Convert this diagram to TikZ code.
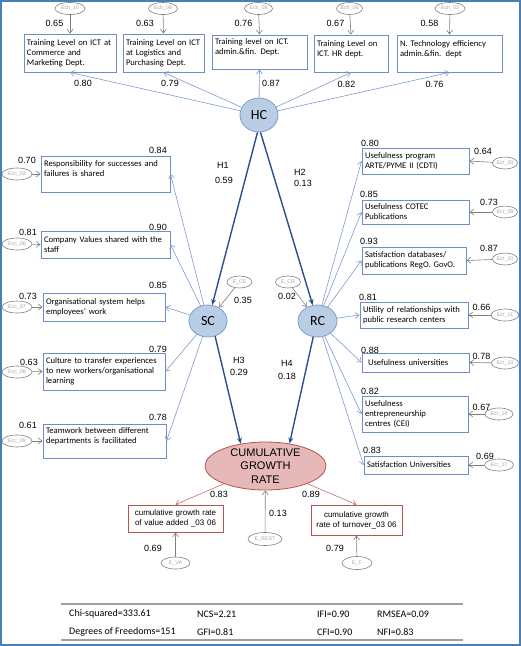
\documentclass[tikz,border=0pt]{standalone}
\usepackage{fontspec}
\setmainfont{Carlito}
\newfontfamily\arialfont{Liberation Sans}
\usetikzlibrary{arrows.meta,shapes.geometric}
\definecolor{framecol}{HTML}{4A7EBB}
\definecolor{boxcol}{HTML}{6E8FC6}
\definecolor{latfill}{HTML}{B9CDE5}
\definecolor{latdraw}{HTML}{7C9DCC}
\definecolor{strcol}{HTML}{28508C}
\definecolor{loadcol}{HTML}{7D9BD0}
\definecolor{errcol}{HTML}{7F7F7F}
\definecolor{errtxt}{HTML}{A6A6A6}
\definecolor{cgrfill}{HTML}{E6B9B8}
\definecolor{cgrdraw}{HTML}{B45553}
\definecolor{redline}{HTML}{B87373}
\definecolor{rulecol}{HTML}{A0A0A0}
\tikzset{>=latex}

\begin{document}
\begin{tikzpicture}[x=1pt,y=-1pt,
  ind/.style 2 args={draw=boxcol, line width=0.9pt, fill=white, align=left,
    inner xsep=3pt, inner ysep=1pt, text width=#1, minimum height=#2,
    font=\fontsize{8.6}{10}\selectfont},
  outc/.style 2 args={ind={#1}{#2}, draw=cgrdraw, align=center,
    font=\arialfont\fontsize{8}{10}\selectfont},
  lat/.style={ellipse, draw=latdraw, fill=latfill, line width=0.8pt, inner sep=0pt,
    minimum width=38pt, minimum height=32pt, font=\fontsize{14}{14}\selectfont},
  err/.style={ellipse, draw=errcol, line width=0.6pt, fill=white, inner sep=0pt,
    minimum width=#1, minimum height=12pt, text=errtxt,
    font=\arialfont\fontsize{5.3}{6}\selectfont},
  err/.default=29pt,
  num/.style={font=\arialfont\fontsize{9}{10}\selectfont, inner sep=0pt},
  tab/.style={anchor=west, inner sep=0pt, font=\fontsize{10}{12}\selectfont},
  load/.style={->, draw=loadcol, line width=0.6pt, >={Straight Barb[length=4pt,width=6pt]}},
  structa/.style={->, draw=strcol, line width=1.4pt, >={Stealth[length=6pt,width=5pt]}},
  erra/.style={->, draw=errcol, line width=0.6pt, >={Straight Barb[length=4pt,width=6pt]}},
  outa/.style={->, draw=redline, line width=0.6pt, >={Straight Barb[length=4pt,width=6pt]}}
]
  \useasboundingbox (0,0) rectangle (521,646);
  \draw[framecol, line width=1.5pt] (1,1) rectangle (520,645);

  % Latent variables
  \node[lat, minimum height=34pt] (HC) at (259,115) {HC};
  \node[lat]                      (SC) at (208,321) {SC};
  \node[lat, minimum width=39pt]  (RC) at (317.5,321) {RC};
  \node[ellipse, draw=cgrdraw, fill=cgrfill, line width=0.8pt, minimum width=121pt,
    minimum height=48pt, inner xsep=0pt, inner ysep=-4pt, align=center,
    font=\arialfont\fontsize{11}{13.5}\selectfont] (CGR) at (265.5,466) {CUMULATIVE\\GROWTH\\RATE};

  % HC indicators
  \node[ind={86pt}{38pt}] (T1) at (70,53)    {Training Level on ICT at\\Commerce and\\Marketing Dept.};
  \node[ind={75pt}{38pt}] (T2) at (163.5,53) {Training Level on ICT\\at Logistics and\\Purchasing Dept.};
  \node[ind={89pt}{34pt}] (T3) at (259.5,52) {Training level on ICT.\\admin.\&fin. Dept.\\\mbox{}};
  \node[ind={68pt}{37pt}] (T4) at (351,53.5) {Training Level on\\ICT. HR dept.\\\mbox{}};
  \node[ind={99pt}{37pt}] (T5) at (449.5,53.5) {N. Technology efficiency\\admin.\&fin. dept\\\mbox{}};

  % SC indicators
  \node[ind={123pt}{36pt}] (L1) at (105.5,174)   {Responsibility for successes and\\failures is shared\\\mbox{}};
  \node[ind={123pt}{27pt}] (L2) at (105.5,244.5) {Company Values shared with the\\staff};
  \node[ind={116pt}{28pt}] (L3) at (104,307)     {Organisational system helps\\employees' work};
  \node[ind={116pt}{37pt}] (L4) at (104,371.5)   {Culture to transfer experiences\\to new workers/organisational\\learning};
  \node[ind={117pt}{34pt}] (L5) at (104.5,441)   {Teamwork between different\\departments is facilitated\\\mbox{}};

  % RC indicators
  \node[ind={101pt}{26pt}] (R1) at (415.5,161)   {Usefulness program\\ARTE/PYME II (CDTI)};
  \node[ind={101pt}{24pt}] (R2) at (415.5,212)   {Usefulness COTEC\\Publications};
  \node[ind={98pt}{27pt}]  (R3) at (414,260.5)   {Satisfaction databases/\\publications RegO. GovO.};
  \node[ind={102pt}{26pt}] (R4) at (414,315)     {Utility of relationships with\\public research centers};
  \node[ind={101pt}{19pt}] (R5) at (415.5,362.5) {\hspace*{3pt}Usefulness universities};
  \node[ind={100pt}{36pt}] (R6) at (415,414)     {Usefulness\\entrepreneurship\\centres (CEI)};
  \node[ind={98pt}{18pt}]  (R7) at (416,465)     {Satisfaction Universities};

  % Outcome indicators
  \node[outc={89pt}{27pt}] (VA) at (175.5,518.5) {cumulative growth rate\\of value added \_03 06};
  \node[outc={85pt}{30pt}] (TO) at (356.5,520)   {cumulative growth\\rate of turnover\_03 06};

  % Errors
  \node[err=30pt] (Ech10) at (70,8.5)   {Ech\_10};
  \node[err=29pt] (Ech09) at (163,8.5)  {Ech\_09};
  \node[err=28pt] (Ech08) at (258.5,8.5) {Ech\_08};
  \node[err=26pt] (Ech06) at (349.5,8.5) {Ech\_06};
  \node[err=30pt] (Ech02) at (450,8.5)  {Ech\_02};

  \node[err=30pt] (Ecc02) at (17,174) {Ecc\_02};
  \node[err=30pt] (Ecc06) at (17,244) {Ecc\_06};
  \node[err=30pt] (Ecc07) at (17,307) {Ecc\_07};
  \node[err=30pt] (Ecc08) at (17,372) {Ecc\_08};
  \node[err=30pt] (Ecc09) at (17,441) {Ecc\_09};

  \node[err=25pt] (Ecr03) at (505,163) {Ecr\_03};
  \node[err=25pt] (Ecr09) at (505,212) {Ecr\_09};
  \node[err=25pt] (Ecr10) at (505,259) {Ecr\_10};
  \node[err=28pt] (Ecr11) at (505,315) {Ecr\_11};
  \node[err=27pt] (Ecr13) at (505,363) {Ecr\_13};
  \node[err=28pt] (Ecr14) at (499,414) {Ecr\_14};
  \node[err=29pt] (Ecr17) at (499,465) {Ecr\_17};

  \node[err=25pt] (ECE) at (239.5,282) {E\_CE};
  \node[err=25pt] (ECR) at (288,282)   {E\_CR};
  \node[err=34pt, minimum height=13pt] (EREST) at (265,539) {E\_REST};
  \node[err=29pt] (EVA) at (175.5,563) {E\_VA};
  \node[err=30pt, minimum height=13pt] (EF) at (357,563) {E\_F};

  % Edges
  \foreach \t in {T1,T2,T3,T4,T5} \draw[load] (HC) -- (\t.south);
  \foreach \t in {L1,L2,L3,L4,L5} \draw[load] (SC) -- (\t.east);
  \foreach \t in {R1,R2,R3,R4,R5,R6,R7} \draw[load] (RC) -- (\t.west);

  \draw[structa] (HC.-95) -- (SC);
  \draw[structa] (HC.-85) -- (RC);
  \draw[structa] (SC.-65) -- (CGR.138);
  \draw[structa] (RC.-105) -- (CGR.43);

  \draw[outa] (CGR) -- (VA.north);
  \draw[outa] (CGR) -- (TO.north);

  \foreach \e/\t in {Ech10/T1,Ech09/T2,Ech08/T3,Ech06/T4,Ech02/T5} \draw[erra] (\e) -- (\t.north);
  \foreach \e/\t in {Ecc02/L1,Ecc06/L2,Ecc07/L3,Ecc08/L4,Ecc09/L5} \draw[erra] (\e) -- (\t.west);
  \foreach \e/\t in {Ecr03/R1,Ecr09/R2,Ecr10/R3,Ecr11/R4,Ecr13/R5,Ecr14/R6,Ecr17/R7} \draw[erra] (\e) -- (\t.east);
  \draw[erra] (ECE) -- (SC);
  \draw[erra] (ECR) -- (RC);
  \draw[erra] (EREST) -- (CGR);
  \draw[erra] (EVA) -- (VA.south);
  \draw[erra] (EF) -- (TO.south);

  % Coefficients
  \foreach \v/\x/\y [count=\i] in {0.65/54.5/23, 0.63/145/23, 0.76/243.5/23, 0.67/335.5/23, 0.58/429.5/23,
      0.80/83/83, 0.79/170/83, 0.87/271/83, 0.82/346.5/84, 0.76/434.5/84,
      0.84/158/150, 0.90/158/227, 0.85/158/285, 0.79/158/349, 0.78/158/417,
      0.70/27/160, 0.81/28/232, 0.73/28/296, 0.63/29/362, 0.61/28/425,
      0.80/370/143, 0.85/369/194, 0.93/369/241, 0.81/368/297, 0.88/370/350, 0.82/370/391, 0.83/372/450,
      0.64/483/151, 0.73/489/202, 0.87/489/248, 0.66/481.5/307, 0.78/481.5/356, 0.67/481.5/407, 0.69/485/456,
      0.35/243/300, 0.02/287/296,
      0.83/219/494, 0.89/311/494, 0.13/278/513, 0.69/153/548, 0.79/335/548,
      H1/223/165, 0.59/224/180, H2/300/172, 0.13/303/183,
      H3/239/360, 0.29/239/372, H4/287/363, 0.18/287/376}
    \node[num] (c\i) at (\x,\y) {\v};

  % Fit indices
  \draw[rulecol, line width=1.5pt] (61,604) -- (463,604);
  \draw[rulecol, line width=1.5pt] (61,640) -- (463,640);
  \node[tab] (chi) at (69,614)  {Chi-squared=333.61};
  \node[tab] (ncs) at (197,614) {NCS=2.21};
  \node[tab] (ifi) at (317,614) {IFI=0.90};
  \node[tab] (rms) at (377,614) {RMSEA=0.09};
  \node[tab] (dof) at (69,632)  {Degrees of Freedoms=151};
  \node[tab] (gfi) at (197,632) {GFI=0.81};
  \node[tab] (cfi) at (317,632) {CFI=0.90};
  \node[tab] (nfi) at (377,632) {NFI=0.83};
\end{tikzpicture}
\end{document}
